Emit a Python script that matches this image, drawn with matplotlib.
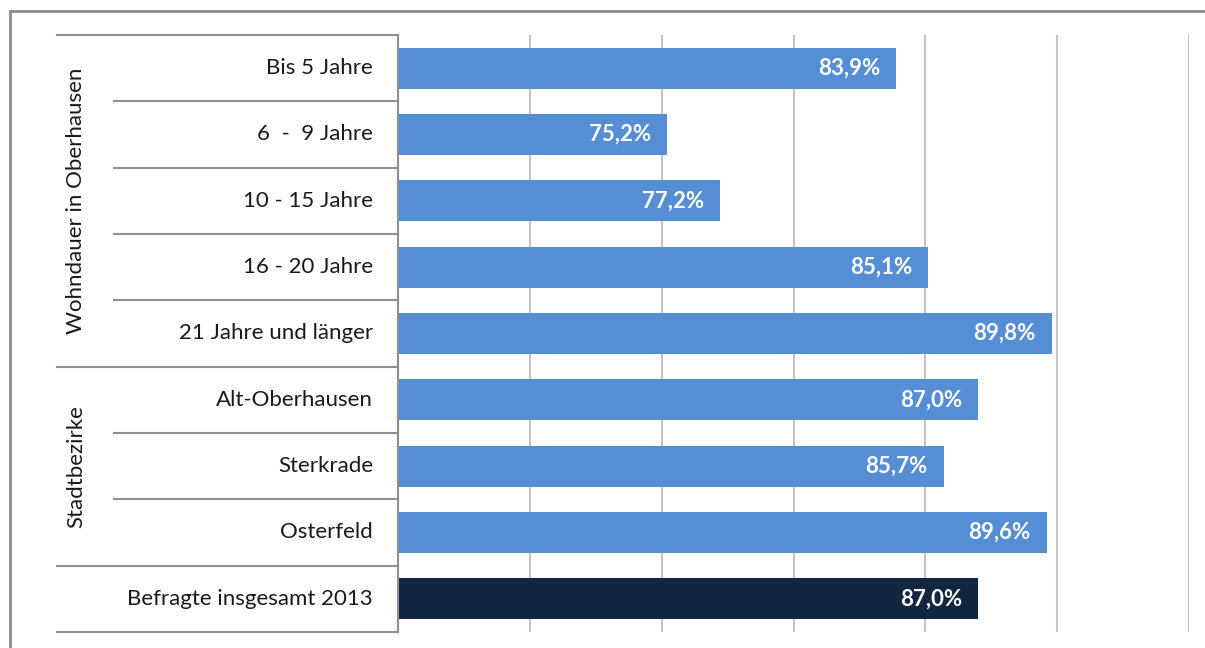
import matplotlib
matplotlib.use("Agg")
import matplotlib.pyplot as plt
from matplotlib.transforms import blended_transform_factory
from matplotlib.patches import Rectangle

categories = ["Bis 5 Jahre", "6  -  9 Jahre", "10 - 15 Jahre", "16 - 20 Jahre",
              "21 Jahre und länger", "Alt-Oberhausen", "Sterkrade", "Osterfeld",
              "Befragte insgesamt 2013"]
values = [83.9, 75.2, 77.2, 85.1, 89.8, 87.0, 85.7, 89.6, 87.0]
groups = [("Wohndauer in Oberhausen", 0, 4), ("Stadtbezirke", 5, 7)]
xticks = [65, 70, 75, 80, 85, 90, 95]

plt.rcParams['font.family'] = ['Lato', 'DejaVu Sans']

W, H = 1205, 648
fig = plt.figure(figsize=(W / 100, H / 100), dpi=100)
fig.patch.set_facecolor("white")

def fx(px):
    return px / W

def fy(py):
    return 1 - py / H

ax = fig.add_axes([fx(398), fy(632), fx(1189) - fx(398), fy(35) - fy(632)])

colors = ["#558ED5"] * 8 + ["#12263F"]
ypos = list(range(len(categories)))
ax.barh(ypos, values, height=0.62, color=colors, zorder=3)
ax.set_xlim(xticks[0], xticks[-1])
ax.set_ylim(len(categories) - 0.5, -0.5)
ax.set_xticks(xticks)
ax.xaxis.grid(True, color="#c4c4c4", linewidth=1.5, zorder=0)
ax.tick_params(axis="both", length=0, labelbottom=False, labelleft=False)
ax.set_yticks([])
for s in ["top", "right", "bottom"]:
    ax.spines[s].set_visible(False)
ax.spines["left"].set_color("#8f8f8f")
ax.spines["left"].set_linewidth(1.5)
ax.spines["left"].set_zorder(4)

FS = 16
for y, v in zip(ypos, values):
    ax.annotate(f"{v:.1f}%".replace(".", ","), xy=(v, y), xytext=(-16, 0),
                textcoords="offset pixels", ha="right", va="center",
                color="white", fontsize=FS, fontweight="bold", zorder=5)

tr = blended_transform_factory(fig.transFigure, ax.transData)
n = len(categories)
# category labels
for y, c in zip(ypos, categories):
    fig.text(fx(373), 0, c, transform=tr, ha="right", va="center",
             fontsize=FS, color="#1a1a1a").set_y(y)

# table lines
major = [-0.5, 4.5, 7.5, n - 0.5]
minor = [b + 0.5 for b in range(n - 1) if (b + 0.5) not in major]
for yb in major:
    ax.plot([fx(57), fx(398)], [yb, yb], transform=tr, color="#8f8f8f",
            linewidth=1.5, clip_on=False)
for yb in minor:
    ax.plot([fx(114), fx(398)], [yb, yb], transform=tr, color="#8f8f8f",
            linewidth=1.5, clip_on=False)

# group labels
for name, a, b in groups:
    t = fig.text(fx(76), 0, name, transform=tr, ha="center", va="center",
                 rotation=90, fontsize=FS, color="#1a1a1a")
    t.set_y((a + b) / 2)

# outer frame
fig.patches.append(Rectangle((fx(10), fy(660)), fx(1220) - fx(10), fy(11) - fy(660),
                             transform=fig.transFigure, fill=False,
                             edgecolor="#8c8c8c", linewidth=2))

fig.savefig("out.png", dpi=100)
